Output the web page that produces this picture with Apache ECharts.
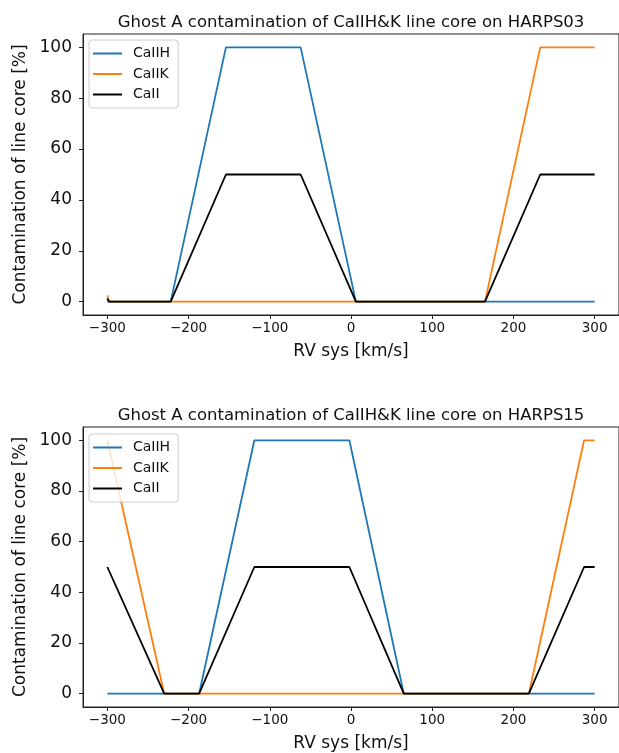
<!DOCTYPE html>
<html>
<head>
<meta charset="utf-8">
<script src="https://cdn.jsdelivr.net/npm/echarts@6/dist/echarts.min.js"></script>
<style>
html, body { margin: 0; padding: 0; background: #fff; }
#main { width: 619px; height: 753px; }
</style>
</head>
<body>
<div id="main"></div>
<script>
// HARPS03 panel
var rv03 = [-300, -298, -222, -154, -62, 6, 165, 233, 300]
var caiih03 = [0, 0, 0, 100, 100, 0, 0, 0, 0]
var caiik03 = [2.5, 0, 0, 0, 0, 0, 0, 100, 100]
var caii03 = [1.25, 0, 0, 50, 50, 0, 0, 50, 50]

// HARPS15 panel
var rv15 = [-300, -230, -187, -119, -2, 65, 219, 287, 300]
var caiih15 = [0, 0, 0, 100, 100, 0, 0, 0, 0]
var caiik15 = [100, 0, 0, 0, 0, 0, 0, 100, 100]
var caii15 = [50, 0, 0, 50, 50, 0, 0, 50, 50]

var xTicks = [-300, -200, -100, 0, 100, 200, 300]
var yTicks = [0, 20, 40, 60, 80, 100]
var seriesNames = ['CaIIH', 'CaIIK', 'CaII']
var colors = ['#1f77b4', '#ff7f0e', '#000000']
var titles = ['Ghost A contamination of CaIIH&K line core on HARPS03',
	'Ghost A contamination of CaIIH&K line core on HARPS15']

var FONT = 'DejaVu Sans'
var gridTops = [34, 427]

function pairs (xs, ys) {
	return xs.map(function (x, i) { return [x, ys[i]] })
}

function makeX (idx) {
	return {
		type: 'value', gridIndex: idx, min: -330, max: 330,
		name: 'RV sys [km/s]', nameLocation: 'middle', nameGap: 28,
		nameTextStyle: { fontFamily: FONT, fontSize: 17, color: '#111' },
		axisLine: { show: true, onZero: false, lineStyle: { color: '#222', width: 1 } },
		axisTick: { show: true, length: 4, lineStyle: { color: '#222' }, customValues: xTicks },
		axisLabel: { fontFamily: FONT, fontSize: 13.5, color: '#111', margin: 6, customValues: xTicks,
			formatter: function (v) { return v < 0 ? '\u2212' + (-v) : String(v) } },
		splitLine: { show: false }
	}
}

function makeY (idx) {
	return {
		type: 'value', gridIndex: idx, min: -5.25, max: 105.25,
		name: 'Contamination of line core [%]', nameLocation: 'middle', nameGap: 54,
		nameTextStyle: { fontFamily: FONT, fontSize: 17, color: '#111' },
		axisLine: { show: true, onZero: false, lineStyle: { color: '#222', width: 1 } },
		axisTick: { show: true, length: 4, lineStyle: { color: '#222' }, customValues: yTicks },
		axisLabel: { fontFamily: FONT, fontSize: 17, color: '#111', margin: 11, customValues: yTicks },
		splitLine: { show: false }
	}
}

function makeLegend (top) {
	return {
		orient: 'vertical', left: 89, top: top,
		data: seriesNames,
		icon: 'rect', itemWidth: 29, itemHeight: 2, itemGap: 5.5,
		padding: [6, 8, 6, 4],
		backgroundColor: 'rgba(255,255,255,0.8)',
		borderColor: '#cccccc', borderWidth: 1, borderRadius: 3,
		textStyle: { fontFamily: FONT, fontSize: 14, color: '#111', lineHeight: 15, padding: [0, 0, 0, 6] }
	}
}

var panels = [
	[caiih03, caiik03, caii03, rv03],
	[caiih15, caiik15, caii15, rv15]
]

var series = []
panels.forEach(function (p, idx) {
	for (var k = 0; k < 3; k++) {
		series.push({
			name: seriesNames[k], type: 'line',
			xAxisIndex: idx, yAxisIndex: idx,
			data: pairs(p[3], p[k]),
			showSymbol: false, symbol: 'none',
			lineStyle: { color: colors[k], width: 1.8 },
			itemStyle: { color: colors[k] },
			z: 2 + k
		})
	}
})

var chart = echarts.init(document.getElementById('main'), null, { renderer: 'canvas' })
chart.setOption({
	animation: false,
	backgroundColor: '#fff',
	title: titles.map(function (t, i) {
		return {
			text: t, left: 346, top: gridTops[i] - 25, textAlign: 'center',
			textStyle: { fontFamily: FONT, fontSize: 16.5, fontWeight: 'normal', color: '#111' }
		}
	}),
	legend: [makeLegend(40), makeLegend(434)],
	grid: gridTops.map(function (t) {
		return { left: 83, top: t, width: 538, height: 281, show: true, borderColor: '#222', borderWidth: 1, containLabel: false }
	}),
	xAxis: [makeX(0), makeX(1)],
	yAxis: [makeY(0), makeY(1)],
	series: series
})
</script>
</body>
</html>
